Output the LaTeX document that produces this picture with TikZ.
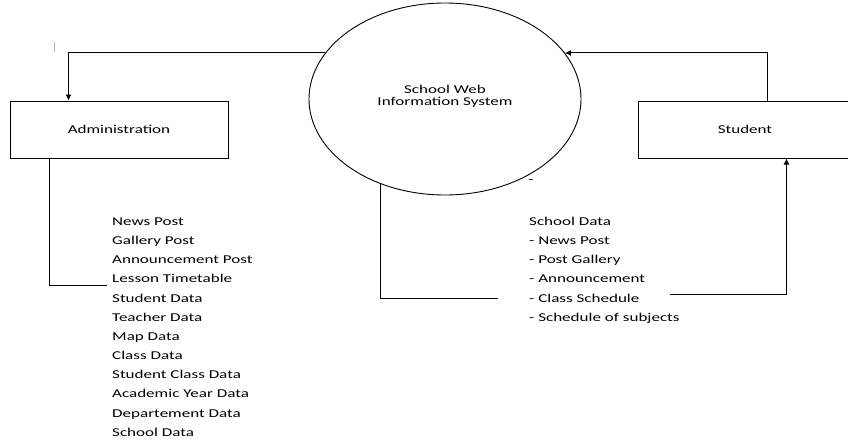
\documentclass[tikz,border=0pt]{standalone}
\usepackage{fontspec}
\setmainfont{Carlito}[FakeStretch=1.42]
\usetikzlibrary{shapes.geometric,arrows.meta}
\begin{document}
\begin{tikzpicture}[x=1pt,y=-1pt,
  every node/.style={font=\fontsize{12}{12}\selectfont, inner sep=0pt},
  box/.style={draw, line width=1pt, rectangle, minimum height=57pt},
  proc/.style={draw, line width=0.9pt, ellipse, minimum width=272pt, minimum height=192pt},
  flow/.style={line width=1pt},
  arr/.style={flow, -{Latex[length=6pt,width=6pt]}},
  item/.style={anchor=base west}]
\useasboundingbox (0,0) rectangle (848,439);
\clip (0,0) rectangle (848,439);
% entities
\node[box, minimum width=218pt] (adm) at (119,129.5) {Administration};
\node[box, minimum width=214pt] (stu) at (745,129.5) {Student};
\node[proc] (sys) at (445,99) {};
\node[align=center] (syst) at (445,96) {School Web\\Information System};
% marks
\coordinate (tickA) at (54,42);
\coordinate (tickB) at (54,52);
\draw[gray!60, line width=1pt] (tickA) -- (tickB);
\node (dash) at (531,182) {-};
% left list
\node[item] (l1) at (112,225) {News Post};
\node[item] (l2) at (112,244) {Gallery Post};
\node[item] (l3) at (112,263) {Announcement Post};
\node[item] (l4) at (112,282) {Lesson Timetable};
\node[item] (l5) at (112,302) {Student Data};
\node[item] (l6) at (112,321) {Teacher Data};
\node[item] (l7) at (112,340) {Map Data};
\node[item] (l8) at (112,359) {Class Data};
\node[item] (l9) at (112,378) {Student Class Data};
\node[item] (l10) at (112,397) {Academic Year Data};
\node[item] (l11) at (112,417) {Departement Data};
\node[item] (l12) at (112,436) {School Data};
% right list
\node[item] (r1) at (529,225) {School Data};
\node[item] (r2) at (529,244) {- News Post};
\node[item] (r3) at (529,263) {- Post Gallery};
\node[item] (r4) at (529,282) {- Announcement};
\node[item] (r5) at (529,302) {- Class Schedule};
\node[item] (r6) at (529,321) {- Schedule of subjects};
% connectors
\draw[arr] (sys.159.4) -| ([xshift=59pt]adm.north west);
\draw[arr] ([xshift=130pt]stu.north west) |- (sys.21.1);
\coordinate (admEnd) at (107,285);
\draw[flow] ([xshift=40pt]adm.south west) |- (admEnd);
\coordinate (sysEnd) at (498,298);
\draw[flow] (sys.233.4) |- (sysEnd);
\coordinate (stuStart) at (670,294);
\draw[arr] (stuStart) -| ([xshift=149pt]stu.south west);
\end{tikzpicture}
\end{document}
